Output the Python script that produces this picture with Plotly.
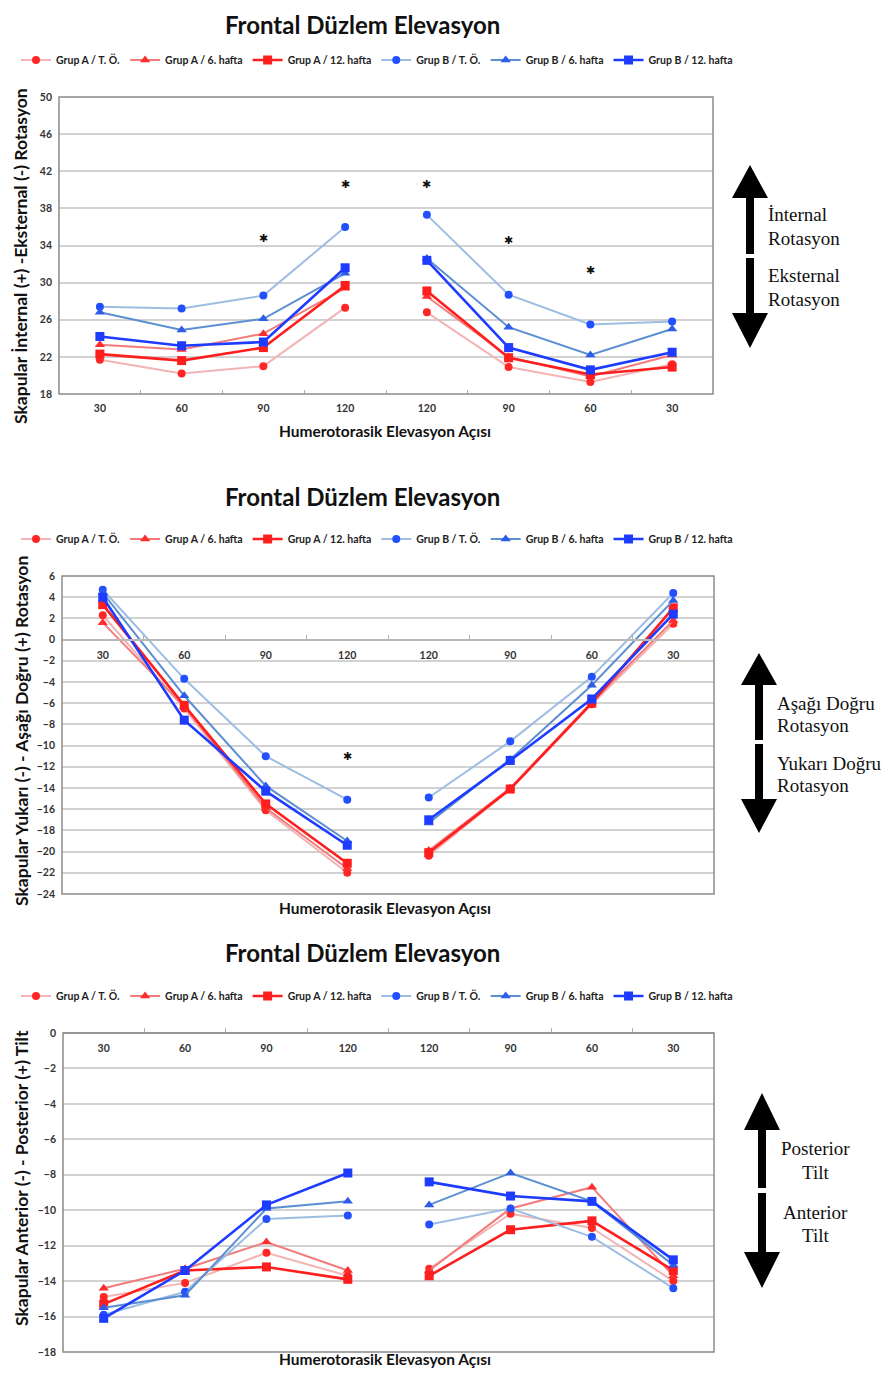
import plotly.graph_objects as go

PAGE_W, PAGE_H = 893, 1378
OFF = 8  # default body margin of the html page
W, H = PAGE_W - 2 * OFF, PAGE_H - 2 * OFF

angle_labels = ["30", "60", "90", "120", "120", "90", "60", "30"]
series_names = ["Grup A / T. Ö.", "Grup A / 6. hafta", "Grup A / 12. hafta",
                "Grup B / T. Ö.", "Grup B / 6. hafta", "Grup B / 12. hafta"]

# Panel 1: İnternal/Eksternal rotasyon
p1_A_TO = [21.7, 20.2, 21.0, 27.3, 26.8, 20.9, 19.3, 21.2]
p1_A_6 = [23.3, 22.8, 24.5, 29.4, 28.5, 22.0, 19.9, 22.2]
p1_A_12 = [22.3, 21.6, 23.0, 29.7, 29.1, 21.9, 20.1, 20.9]
p1_B_TO = [27.4, 27.2, 28.6, 36.0, 37.3, 28.7, 25.5, 25.8]
p1_B_6 = [26.8, 24.9, 26.1, 31.0, 32.6, 25.2, 22.2, 25.0]
p1_B_12 = [24.2, 23.2, 23.6, 31.6, 32.4, 23.0, 20.6, 22.5]
p1_star_pos = [2, 3, 4, 5, 6]
p1_star_val = [34.7, 40.5, 40.5, 34.5, 31.2]

# Panel 2: Yukarı/Aşağı doğru rotasyon
p2_A_TO = [2.3, -6.5, -16.1, -22.0, -20.4, -14.1, -6.1, 1.5]
p2_A_6 = [1.6, -6.3, -15.9, -21.6, -19.9, -14.0, -5.9, 1.8]
p2_A_12 = [3.3, -6.2, -15.5, -21.1, -20.1, -14.1, -6.0, 3.0]
p2_B_TO = [4.7, -3.7, -11.0, -15.1, -14.9, -9.6, -3.5, 4.4]
p2_B_6 = [4.4, -5.3, -13.8, -19.0, -17.3, -11.3, -4.3, 3.7]
p2_B_12 = [4.0, -7.6, -14.3, -19.4, -17.0, -11.4, -5.6, 2.4]
p2_star_pos = [3]
p2_star_val = [-11.1]

# Panel 3: Anterior/Posterior tilt
p3_A_TO = [-14.9, -14.1, -12.4, -13.7, -13.3, -10.2, -11.0, -14.0]
p3_A_6 = [-14.4, -13.3, -11.8, -13.4, -13.4, -9.9, -8.7, -13.7]
p3_A_12 = [-15.3, -13.4, -13.2, -13.9, -13.7, -11.1, -10.6, -13.4]
p3_B_TO = [-15.9, -14.6, -10.5, -10.3, -10.8, -9.9, -11.5, -14.4]
p3_B_6 = [-15.5, -14.8, -9.9, -9.5, -9.7, -7.9, -9.5, -13.1]
p3_B_12 = [-16.1, -13.4, -9.7, -7.9, -8.4, -9.2, -9.5, -12.8]

line_colors = ["#f2b4b4", "#f37b7b", "#ff1e1e", "#9dbde2", "#5b8ed2", "#1d3cff"]
marker_colors = ["#ff2626", "#ff2e2e", "#ff1e1e", "#2350ff", "#2d5ce6", "#1d3cff"]
symbols = ["circle", "triangle-up", "square", "circle", "triangle-up", "square"]
line_widths = [2, 2, 2.6, 2, 2, 2.6]
marker_sizes = [8, 9, 9, 8, 9, 9]

FONT = "Lato"

def fx(px):
    return (px - OFF) / W

def fy(py):
    return 1 - (py - OFF) / H

panels = [
    dict(data=[p1_A_TO, p1_A_6, p1_A_12, p1_B_TO, p1_B_6, p1_B_12],
         stars=(p1_star_pos, p1_star_val), yr=[18, 50], dt=4,
         box=(59, 97, 713, 394), title_y=18, legend_y=60, xt_y=431,
         xaxis_at=None,
         ytitle="Skapular İnternal (+) -Eksternal (-) Rotasyon", ytitle_y=256),
    dict(data=[p2_A_TO, p2_A_6, p2_A_12, p2_B_TO, p2_B_6, p2_B_12],
         stars=(p2_star_pos, p2_star_val), yr=[-24, 6], dt=2,
         box=(62, 576, 714, 894), title_y=496, legend_y=539, xt_y=908,
         xaxis_at=0,
         ytitle="Skapular Yukarı (-) - Aşağı Doğru (+) Rotasyon", ytitle_y=731),
    dict(data=[p3_A_TO, p3_A_6, p3_A_12, p3_B_TO, p3_B_6, p3_B_12],
         stars=None, yr=[-18, 0], dt=2,
         box=(63, 1033, 714, 1352), title_y=953, legend_y=996, xt_y=1365,
         xaxis_at=0,
         ytitle="Skapular Anterior (-) - Posterior (+) Tilt", ytitle_y=1178),
]

fig = go.Figure()
annotations = []
shapes = []
layout = {}
positions = list(range(len(angle_labels)))

for i, p in enumerate(panels):
    n = "" if i == 0 else str(i + 1)
    xa, ya = "x" + n, "y" + n
    leg = "legend" + n
    for k, vals in enumerate(p["data"]):
        xs = positions[:4] + [None] + positions[4:]
        ys = vals[:4] + [None] + vals[4:]
        fig.add_trace(go.Scatter(
            x=xs, y=ys, mode="lines+markers", name=series_names[k],
            xaxis=xa, yaxis=ya, legend=leg, connectgaps=False,
            line=dict(color=line_colors[k], width=line_widths[k]),
            marker=dict(symbol=symbols[k], color=marker_colors[k], size=marker_sizes[k],
                        line=dict(width=0))))
    if p["stars"]:
        fig.add_trace(go.Scatter(
            x=p["stars"][0], y=p["stars"][1], mode="text", text=["✱"] * len(p["stars"][0]),
            textfont=dict(size=11, color="#111111"), xaxis=xa, yaxis=ya, showlegend=False,
            hoverinfo="skip"))
    x0, y0, x1, y1 = p["box"]
    ydom = [fy(y1), fy(y0)]
    xaxis = dict(domain=[fx(x0), fx(x1)], range=[-0.5, 7.5], tickmode="array",
                 tickvals=positions, ticktext=angle_labels, showgrid=False, zeroline=False,
                 ticks="", ticklabelstandoff=6, automargin=False,
                 tickfont=dict(family=FONT, size=10.5, color="#333333", weight="bold"),
                 minor=dict(tickmode="array", tickvals=[q + 0.5 for q in positions[:-1]],
                            ticks="inside", ticklen=4, tickcolor="#b0b0b0", tickwidth=1),
                 anchor=ya, fixedrange=True)
    if p["xaxis_at"] is not None:
        frac = (p["xaxis_at"] - p["yr"][0]) / (p["yr"][1] - p["yr"][0])
        xaxis["anchor"] = "free"
        xaxis["position"] = ydom[0] + frac * (ydom[1] - ydom[0])
        xaxis["showline"] = True
        xaxis["linecolor"] = "#b8b8b8"
        xaxis["linewidth"] = 1.5
    yaxis = dict(domain=ydom, range=p["yr"], dtick=p["dt"], tick0=p["yr"][0],
                 showgrid=True, gridcolor="#d2d2d2", gridwidth=1.5, zeroline=False,
                 ticks="", ticklabelstandoff=6, anchor=xa, fixedrange=True, automargin=False,
                 tickfont=dict(family=FONT, size=10.5, color="#333333", weight="bold"))
    layout["xaxis" + n] = xaxis
    layout["yaxis" + n] = yaxis
    layout[leg] = dict(orientation="h", x=fx(16), y=fy(p["legend_y"]), xanchor="left",
                       yanchor="middle", itemwidth=30, bgcolor="rgba(0,0,0,0)",
                       font=dict(family=FONT, size=10.5, color="#222222", weight="bold"),
                       tracegroupgap=0, itemclick=False)
    shapes.append(dict(type="rect", xref=xa + " domain", yref=ya + " domain", x0=0, x1=1,
                       y0=0, y1=1, line=dict(color="#8a8a8a", width=1.5), layer="above"))
    if i == 0:
        t_y, t_anchor = 1.0, "top"
    else:
        t_y, t_anchor = fy(p["title_y"]), "middle"
    annotations.append(dict(text="Frontal Düzlem Elevasyon", x=fx(362), y=t_y,
                            xref="paper", yref="paper", showarrow=False, xanchor="center",
                            yanchor=t_anchor,
                            font=dict(family=FONT, size=24, color="#111111", weight="bold")))
    if i == 2:
        xt_y, xt_anchor = 0.0, "bottom"
    else:
        xt_y, xt_anchor = fy(p["xt_y"]), "middle"
    annotations.append(dict(text="Humerotorasik Elevasyon Açısı", x=fx(385), y=xt_y,
                            xref="paper", yref="paper", showarrow=False, xanchor="center",
                            yanchor=xt_anchor,
                            font=dict(family=FONT, size=15.5, color="#111111", weight="bold")))
    annotations.append(dict(text=p["ytitle"], x=fx(21), y=fy(p["ytitle_y"]),
                            xref="paper", yref="paper", showarrow=False, xanchor="center",
                            yanchor="middle", textangle=-90,
                            font=dict(family=FONT, size=17.5, color="#111111", weight="bold")))

# side arrows (decoration)
def arrow_paths(cx, top, headbot, shaft_end, shaft_start2, head2, bottom, hw=18, sw=4):
    up = [(cx, top), (cx - hw, headbot), (cx - sw, headbot), (cx - sw, shaft_end),
          (cx + sw, shaft_end), (cx + sw, headbot), (cx + hw, headbot)]
    dn = [(cx, bottom), (cx - hw, head2), (cx - sw, head2), (cx - sw, shaft_start2),
          (cx + sw, shaft_start2), (cx + sw, head2), (cx + hw, head2)]
    out = []
    for pts in (up, dn):
        d = "M " + " L ".join(f"{fx(a):.5f},{fy(b):.5f}" for a, b in pts) + " Z"
        out.append(dict(type="path", xref="paper", yref="paper", path=d,
                        fillcolor="#000000", line=dict(width=0)))
    return out

shapes += arrow_paths(750, 165, 198, 254, 258, 313, 348)
shapes += arrow_paths(759, 653, 685, 740, 744, 799, 833)
shapes += arrow_paths(762, 1093, 1130, 1188, 1193, 1252, 1288)

side_texts = [
    ("İnternal", 766, 215, "left"), ("Rotasyon", 766, 239, "left"),
    ("Eksternal", 766, 276, "left"), ("Rotasyon", 766, 299, "left"),
    ("Aşağı Doğru", 775, 703, "left"), ("Rotasyon", 775, 725, "left"),
    ("Yukarı Doğru", 775, 763, "left"), ("Rotasyon", 775, 785, "left"),
    ("Posterior", 815, 1148, "center"), ("Tilt", 815, 1172, "center"),
    ("Anterior", 815, 1212, "center"), ("Tilt", 815, 1235, "center"),
]
for t, x, y, anc in side_texts:
    annotations.append(dict(text=t, x=fx(x), y=fy(y), xref="paper", yref="paper",
                            showarrow=False, xanchor=anc, yanchor="middle",
                            font=dict(family="Liberation Serif", size=19, color="#111111")))

fig.update_layout(width=W, height=H, margin=dict(l=0, r=0, t=0, b=0, autoexpand=False),
                  paper_bgcolor="white", plot_bgcolor="white",
                  annotations=annotations, shapes=shapes, **layout)

fig.write_html("out.html")
